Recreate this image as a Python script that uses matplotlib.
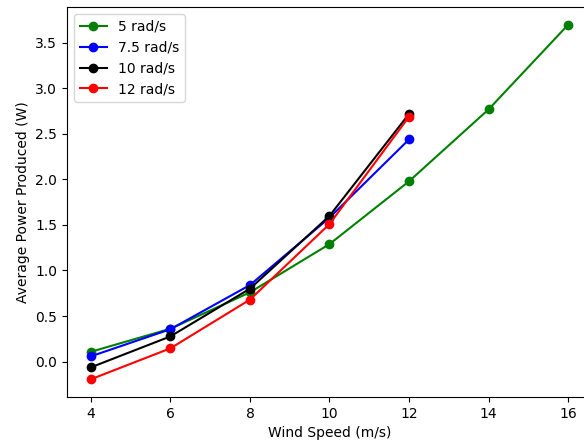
import matplotlib
matplotlib.use("Agg")
import matplotlib.pyplot as plt

# Wind speed (m/s) and average power (W) for each rotor speed
wind_5 = [4, 6, 8, 10, 12, 14, 16]
power_5 = [0.107, 0.36, 0.76, 1.29, 1.98, 2.77, 3.70]

wind_7_5 = [4, 6, 8, 10, 12]
power_7_5 = [0.057, 0.355, 0.84, 1.58, 2.44]

wind_10 = [4, 6, 8, 10, 12]
power_10 = [-0.064, 0.276, 0.80, 1.60, 2.72]

wind_12 = [4, 6, 8, 10, 12]
power_12 = [-0.195, 0.145, 0.68, 1.51, 2.69]

fig = plt.figure(figsize=(5.84, 4.48), dpi=100)
# axes run slightly past the right edge of the canvas
ax = fig.add_axes([67 / 584, 51 / 448, 525 / 584, 390 / 448])

ax.plot(wind_5, power_5, "o-", color="green", label="5 rad/s")
ax.plot(wind_7_5, power_7_5, "o-", color="blue", label="7.5 rad/s")
ax.plot(wind_10, power_10, "o-", color="black", label="10 rad/s")
ax.plot(wind_12, power_12, "o-", color="red", label="12 rad/s")
ax.set_xlim(3.4, 16.6)
ax.spines["right"].set_visible(False)

ax.set_xlabel("Wind Speed (m/s)")
ax.set_ylabel("Average Power Produced (W)")
ax.legend(loc="upper left")

fig.savefig("out.png", dpi=100)
